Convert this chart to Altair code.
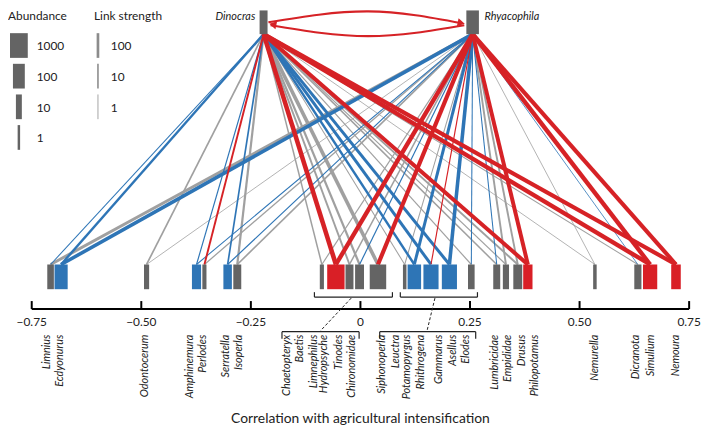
import altair as alt
import pandas as pd

# ------------------------------------------------------------------
# Data
# ------------------------------------------------------------------
# prey taxa shown as boxes (display position on the correlation axis)
TAXA = ["Limnius", "Ecdyonurus", "Odontocerum", "Amphinemura", "Perlodes",
        "Serratella", "Isoperla", "Chaetopteryx", "Baetis", "Limnephilus",
        "Hydropsyche", "Chironomidae", "Siphonoperla", "Leuctra", "Gammarus",
        "Asellus", "Elodes", "Lumbricidae", "Empididae", "Drusus",
        "Philopotamus", "Nemurella", "Dicranota", "Simulium", "Nemoura"]
TAXA_X = [-0.707, -0.683, -0.488, -0.374, -0.356,
          -0.303, -0.281, -0.088, -0.056, -0.025,
          -0.002, 0.040, 0.101, 0.123, 0.161,
          0.203, 0.253, 0.311, 0.332, 0.359,
          0.382, 0.535, 0.633, 0.661, 0.720]
TAXA_ABUND = [13, 165, 6, 35, 3,
              27, 22, 3, 850, 22,
              32, 600, 2, 190, 355,
              355, 13, 15, 11, 32,
              37, 2, 16, 250, 41]
TAXA_TYPE = ["ns", "neg", "ns", "neg", "ns",
             "neg", "ns", "ns", "pos", "ns",
             "ns", "ns", "ns", "neg", "neg",
             "neg", "ns", "ns", "ns", "ns",
             "pos", "ns", "ns", "pos", "pos"]

# predators (top nodes)
PREDATORS = ["Dinocras", "Rhyacophila"]
PRED_X = [-0.221, 0.256]
PRED_ABUND = [22, 131]

# links taxon -> Dinocras and taxon -> Rhyacophila
LINK_D_TYPE = ["neg", "neg", "ns", "neg", "pos",
               "neg", "ns", "ns", "pos", "ns",
               "ns", "ns", "ns", "neg", "neg",
               "neg", "ns", "ns", "ns", "ns",
               "pos", "ns", "ns", "pos", "pos"]
LINK_D_STRENGTH = [2, 60, 12, 3, 20,
                   12, 40, 8, 1000, 20,
                   40, 300, 2, 60, 150,
                   150, 3, 8, 3, 20,
                   500, 1, 2, 800, 600]
LINK_R_TYPE = ["ns", "neg", "ns", "neg", "ns",
               "neg", "ns", "ns", "pos", "ns",
               "neg", "pos", "ns", "neg", "pos",
               "neg", "neg", "neg", "ns", "ns",
               "pos", "ns", "neg", "pos", "pos"]
LINK_R_STRENGTH = [150, 300, 1, 2, 4,
                   3, 12, 3, 800, 8,
                   3, 600, 2, 150, 3,
                   300, 2, 2, 20, 20,
                   500, 1, 1, 800, 600]
# predator <-> predator links (Dinocras->Rhyacophila, Rhyacophila->Dinocras)
PRED_LINK_STRENGTH = [30, 30]

# taxon labels under the axis
LABELS = ["Limnius", "Ecdyonurus", "Odontocerum", "Amphinemura", "Perlodes",
          "Serratella", "Isoperla", "Chaetopteryx", "Baetis", "Limnephilus",
          "Hydropsyche", "Tinodes", "Chironomidae", "Siphonoperla", "Leuctra",
          "Potamopyrgus", "Rhithrogena", "Gammarus", "Asellus", "Elodes",
          "Lumbricidae", "Empididae", "Drusus", "Philopotamus", "Nemurella",
          "Dicranota", "Simulium", "Nemoura"]
LABEL_X = [-0.714, -0.685, -0.491, -0.388, -0.358,
           -0.306, -0.276, -0.168, -0.138, -0.106,
           -0.083, -0.048, -0.019, 0.050, 0.082,
           0.106, 0.139, 0.180, 0.212, 0.242,
           0.307, 0.336, 0.369, 0.398, 0.535,
           0.628, 0.664, 0.721]

AXIS_TICKS = [-0.75, -0.5, -0.25, 0, 0.25, 0.5, 0.75]
AXIS_TITLE = "Correlation with agricultural intensification"

# grouped boxes (upper bracket) and their label spans (lower bracket)
GROUP_BOX_LO = [-0.105, 0.091]
GROUP_BOX_HI = [0.073, 0.267]
GROUP_LAB_LO = [-0.179, 0.044]
GROUP_LAB_HI = [-0.003, 0.263]
GROUP_LINK_FROM = [-0.021, 0.170]
GROUP_LINK_TO = [-0.091, 0.152]

LEGEND_ABUND = [1000, 100, 10, 1]
LEGEND_LINK = [100, 10, 1]
LEGEND_TITLES = ["Abundance", "Link strength"]

# ------------------------------------------------------------------
# Layout (page pixels) and styles
# ------------------------------------------------------------------
W, H = 665, 417
X0, Y0 = 32, 8            # page position of the plot's top-left corner
NODE_TOP, NODE_BOTTOM = 8, 32
BOX_TOP, BOX_BOTTOM = 265, 290
AXIS_Y, TICK_TOP = 310, 302
TICKLABEL_Y = 323
LABEL_TOP = 336
TITLE_Y = 421
BR_UP_Y, BR_UP_END = 298, 293
BR_LO_Y, BR_LO_END = 333, 340
LEG_TITLE_Y = 14
LEG_TITLE_X = [8, 95]
LEG_TOP, LEG_STEP, LEG_H = 31, 31, 25
LEG_ABUND_X, LEG_ABUND_LX = 19, 37
LEG_LINK_X, LEG_LINK_LX = 99, 112
FONT = "Lato"
RED = "#d62226"

BOX_COLORS = alt.Scale(domain=["neg", "ns", "pos"], range=["#2e75b6", "#646464", "#d91f26"])
LINK_COLORS = alt.Scale(domain=["neg", "ns", "pos"], range=["#2e75b6", "#a0a0a0", RED])
ABUND_SIZE = alt.Scale(type="log", domain=[1, 10, 100, 1000], range=[2.5, 6, 12, 18])
LINK_SIZE = alt.Scale(type="log", domain=[1, 10, 100, 1000], range=[0.8, 1.6, 2.7, 4.6])

XS = alt.Scale(domain=[-0.75, 0.75], nice=False, zero=False)
YS = alt.Scale(domain=[Y0, Y0 + H], reverse=True, nice=False, zero=False)


def ex(f):
    return alt.X(f, type="quantitative", scale=XS, axis=None)


def ex2(f):
    return alt.X2(f)


def ey(f):
    return alt.Y(f, type="quantitative", scale=YS, axis=None)


def ey2(f):
    return alt.Y2(f)


# ------------------------------------------------------------------
# Tables
# ------------------------------------------------------------------
rows = []
for i, t in enumerate(TAXA):
    rows.append(dict(taxon=t, pred=PREDATORS[0], x=TAXA_X[i], x2=PRED_X[0],
                     kind=LINK_D_TYPE[i], s=LINK_D_STRENGTH[i]))
    rows.append(dict(taxon=t, pred=PREDATORS[1], x=TAXA_X[i], x2=PRED_X[1],
                     kind=LINK_R_TYPE[i], s=LINK_R_STRENGTH[i]))
links = pd.DataFrame(rows)
links["y"] = BOX_TOP
links["y2"] = NODE_BOTTOM
order = {"ns": 0, "neg": 1, "pos": 2}
links["o"] = links["kind"].map(order)
links = links.sort_values(["o", "s"], ascending=[True, False]).drop(columns="o")

boxes = pd.DataFrame(dict(name=TAXA, x=TAXA_X, a=TAXA_ABUND, kind=TAXA_TYPE))
boxes["y"] = BOX_TOP
boxes["y2"] = BOX_BOTTOM
preds = pd.DataFrame(dict(name=PREDATORS, x=PRED_X, a=PRED_ABUND, kind=["ns", "ns"]))
preds["y"] = NODE_TOP
preds["y2"] = NODE_BOTTOM
nodes = pd.concat([boxes, preds], ignore_index=True)

# predator-predator arcs (start, bend, end)
mid = (PRED_X[0] + PRED_X[1]) / 2
arcs = pd.DataFrame(dict(
    arc=["DR"] * 3 + ["RD"] * 3,
    x=[PRED_X[0] + 0.011, mid, PRED_X[1] - 0.024,
       PRED_X[1] - 0.019, mid, PRED_X[0] + 0.016],
    y=[20, 9, 21, 23, 34, 23],
    s=[PRED_LINK_STRENGTH[0]] * 3 + [PRED_LINK_STRENGTH[1]] * 3,
))
heads = pd.DataFrame(dict(
    x=[PRED_X[1] - 0.026, PRED_X[0] + 0.021],
    y=[20.7, 22.3],
    shape=["triangle-right", "triangle-left"],
))

labels = pd.DataFrame(dict(label=LABELS, x=LABEL_X))
labels["y"] = LABEL_TOP

ticks = pd.DataFrame(dict(v=AXIS_TICKS))
ticks["y"] = TICK_TOP
ticks["y2"] = AXIS_Y
ticks["ly"] = TICKLABEL_Y
axis_line = pd.DataFrame(dict(x=[min(AXIS_TICKS)], x2=[max(AXIS_TICKS)], y=[AXIS_Y]))
title_df = pd.DataFrame(dict(t=[AXIS_TITLE], x=[(min(AXIS_TICKS) + max(AXIS_TICKS)) / 2], y=[TITLE_Y]))

# brackets: horizontal pieces and end ticks
br_h, br_v = [], []
for lo, hi in zip(GROUP_BOX_LO, GROUP_BOX_HI):
    br_h.append(dict(x=lo, x2=hi, y=BR_UP_Y))
    br_v += [dict(x=lo, y=BR_UP_Y, y2=BR_UP_END), dict(x=hi, y=BR_UP_Y, y2=BR_UP_END)]
for lo, hi in zip(GROUP_LAB_LO, GROUP_LAB_HI):
    br_h.append(dict(x=lo, x2=hi, y=BR_LO_Y))
    br_v += [dict(x=lo, y=BR_LO_Y, y2=BR_LO_END), dict(x=hi, y=BR_LO_Y, y2=BR_LO_END)]
br_h = pd.DataFrame(br_h)
br_v = pd.DataFrame(br_v)
br_d = pd.DataFrame(dict(x=GROUP_LINK_FROM, x2=GROUP_LINK_TO))
br_d["y"] = BR_UP_Y + 1
br_d["y2"] = BR_LO_Y - 1

leg_a = pd.DataFrame(dict(a=LEGEND_ABUND, t=[str(v) for v in LEGEND_ABUND]))
leg_a["y"] = [LEG_TOP + i * LEG_STEP for i in range(len(LEGEND_ABUND))]
leg_a["y2"] = leg_a["y"] + LEG_H
leg_a["ly"] = leg_a["y"] + LEG_H / 2 + 1
leg_l = pd.DataFrame(dict(s=LEGEND_LINK, t=[str(v) for v in LEGEND_LINK]))
leg_l["y"] = [LEG_TOP + i * LEG_STEP for i in range(len(LEGEND_LINK))]
leg_l["y2"] = leg_l["y"] + LEG_H
leg_l["ly"] = leg_l["y"] + LEG_H / 2 + 1

# ------------------------------------------------------------------
# Layers
# ------------------------------------------------------------------
link_layer = alt.Chart(links).mark_rule(strokeCap="butt").encode(
    x=ex("x"), x2=ex2("x2"), y=ey("y"), y2=ey2("y2"),
    color=alt.Color("kind:N", scale=LINK_COLORS, legend=None),
    size=alt.Size("s:Q", scale=LINK_SIZE, legend=None),
)

arc_layer = alt.Chart(arcs).mark_line(interpolate="natural", color=RED).encode(
    x=ex("x"), y=ey("y"), detail="arc:N",
    size=alt.Size("s:Q", scale=LINK_SIZE, legend=None),
)

head_layer = alt.Chart(heads).mark_point(filled=True, opacity=1, color=RED, size=70, angle=12).encode(
    x=ex("x"), y=ey("y"), shape=alt.Shape("shape:N", scale=None, legend=None),
)

node_layer = alt.Chart(nodes).mark_rule(strokeCap="butt").encode(
    x=ex("x"), y=ey("y"), y2=ey2("y2"),
    color=alt.Color("kind:N", scale=BOX_COLORS, legend=None),
    size=alt.Size("a:Q", scale=ABUND_SIZE, legend=None),
)

pred_lab_l = alt.Chart(pd.DataFrame(dict(t=[PREDATORS[0]], x=[PRED_X[0] - 0.019], y=[15]))).mark_text(
    align="right", baseline="middle", font=FONT, fontStyle="italic", fontSize=11, color="#222"
).encode(x=ex("x"), y=ey("y"), text="t:N")
pred_lab_r = alt.Chart(pd.DataFrame(dict(t=[PREDATORS[1]], x=[PRED_X[1] + 0.027], y=[15]))).mark_text(
    align="left", baseline="middle", font=FONT, fontStyle="italic", fontSize=11, color="#222"
).encode(x=ex("x"), y=ey("y"), text="t:N")

label_layer = alt.Chart(labels).mark_text(
    angle=270, align="right", baseline="middle", font=FONT, fontStyle="italic",
    fontSize=11, color="#222"
).encode(x=ex("x"), y=ey("y"), text="label:N")

axis_rule = alt.Chart(axis_line).mark_rule(color="black", strokeWidth=2).encode(
    x=ex("x"), x2=ex2("x2"), y=ey("y"))
tick_rule = alt.Chart(ticks).mark_rule(color="black", strokeWidth=2).encode(
    x=ex("v"), y=ey("y"), y2=ey2("y2"))
tick_text = alt.Chart(ticks).transform_calculate(
    lab="datum.v == 0 ? '0' : format(datum.v, '.2f')"
).mark_text(font=FONT, fontSize=12, baseline="middle", color="#222").encode(
    x=ex("v"), y=ey("ly"), text="lab:N")
title_text = alt.Chart(title_df).mark_text(font=FONT, fontSize=14, baseline="middle", color="#222").encode(
    x=ex("x"), y=ey("y"), text="t:N")

br_h_layer = alt.Chart(br_h).mark_rule(color="#222", strokeWidth=1.2).encode(
    x=ex("x"), x2=ex2("x2"), y=ey("y"))
br_v_layer = alt.Chart(br_v).mark_rule(color="#222", strokeWidth=1.2).encode(
    x=ex("x"), y=ey("y"), y2=ey2("y2"))
br_d_layer = alt.Chart(br_d).mark_rule(color="#222", strokeWidth=1, strokeDash=[3, 2]).encode(
    x=ex("x"), x2=ex2("x2"), y=ey("y"), y2=ey2("y2"))

leg_a_rule = alt.Chart(leg_a).mark_rule(strokeCap="butt", color="#646464").encode(
    x=alt.value(LEG_ABUND_X - X0), y=ey("y"), y2=ey2("y2"),
    size=alt.Size("a:Q", scale=ABUND_SIZE, legend=None))
leg_a_text = alt.Chart(leg_a).mark_text(align="left", baseline="middle", font=FONT, fontSize=12, color="#222").encode(
    x=alt.value(LEG_ABUND_LX - X0), y=ey("ly"), text="t:N")
leg_l_rule = alt.Chart(leg_l).mark_rule(strokeCap="butt", color="#8c8c8c").encode(
    x=alt.value(LEG_LINK_X - X0), y=ey("y"), y2=ey2("y2"),
    size=alt.Size("s:Q", scale=LINK_SIZE, legend=None))
leg_l_text = alt.Chart(leg_l).mark_text(align="left", baseline="middle", font=FONT, fontSize=12, color="#222").encode(
    x=alt.value(LEG_LINK_LX - X0), y=ey("ly"), text="t:N")

leg_titles = []
for title, tx in zip(LEGEND_TITLES, LEG_TITLE_X):
    leg_titles.append(
        alt.Chart(pd.DataFrame(dict(t=[title], y=[LEG_TITLE_Y]))).mark_text(
            align="left", baseline="middle", font=FONT, fontSize=12, color="#222"
        ).encode(x=alt.value(tx - X0), y=ey("y"), text="t:N")
    )

chart = alt.layer(
    link_layer, arc_layer, head_layer, node_layer,
    pred_lab_l, pred_lab_r, label_layer,
    axis_rule, tick_rule, tick_text, title_text,
    br_h_layer, br_v_layer, br_d_layer,
    leg_a_rule, leg_a_text, leg_l_rule, leg_l_text, *leg_titles,
).resolve_scale(
    color="independent", size="independent"
).properties(
    width=W, height=H, autosize="none", background="white",
    padding={"left": X0 - 8, "top": 0, "right": 12, "bottom": 8},
).configure_view(stroke=None)

chart.save("out.html", embed_options={"renderer": "svg", "actions": False})
